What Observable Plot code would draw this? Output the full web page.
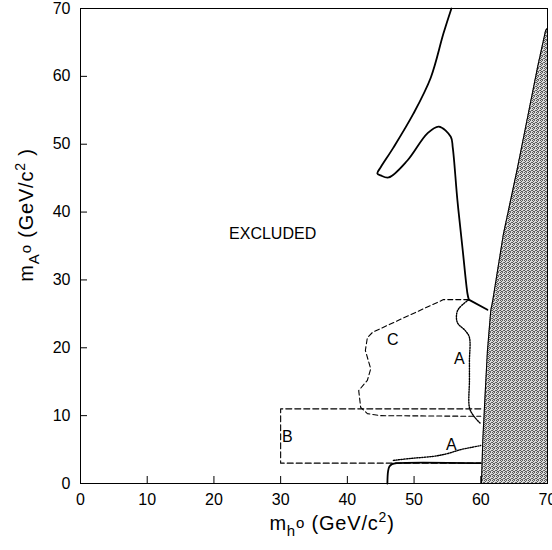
<!DOCTYPE html>
<html>
<head>
<meta charset="utf-8">
<script src="https://cdn.jsdelivr.net/npm/d3@7"></script>
<script src="https://cdn.jsdelivr.net/npm/@observablehq/plot@0.6"></script>
<style>
  html, body { margin: 0; padding: 0; background: #fff; }
  #chart { width: 552px; height: 550px; }
</style>
</head>
<body>
<div id="chart"></div>
<script>
// ---- tick values ----
const xTicks = [0, 10, 20, 30, 40, 50, 60, 70];
const yTicks = [0, 10, 20, 30, 40, 50, 60, 70];

// ---- kinematically inaccessible (shaded) region: left boundary ----
const shadeX = [60.1, 60.3, 60.6, 61.0, 61.5, 61.8, 63.4, 65.5, 67.0, 68.5, 69.7, 69.9];
const shadeY = [0, 6.3, 12.2, 19.6, 25.5, 27.0, 36.8, 46.5, 53.9, 61.3, 66.7, 67.0];

// ---- solid exclusion contour (upper) ----
const upperX = [55.6, 54.4, 52.5, 49.9, 46.9, 45.0, 44.5, 45.0, 46.2, 49.0, 52.0, 53.7, 55.5, 55.8, 56.5, 57.3, 58.0, 58.2];
const upperY = [70.0, 66.3, 59.8, 54.5, 49.5, 46.6, 45.7, 45.4, 45.1, 47.6, 51.6, 52.6, 51.1, 49.5, 41.7, 34.3, 28.0, 27.1];
// short branch from the junction to the shaded region
const branchX = [58.2, 61.0];
const branchY = [27.1, 25.6];

// ---- solid exclusion contour (bottom) ----
const lowerX = [46.0, 46.1, 46.3, 46.7, 47.4, 60.0];
const lowerY = [0, 1.8, 2.5, 2.85, 3.0, 3.0];

// ---- dashed contour C ----
const cX = [58.2, 54.4, 43.8, 43.0, 42.7, 43.5, 43.0, 41.7, 42.0, 43.0, 45.0, 60.0];
const cY = [27.1, 27.1, 22.3, 21.5, 19.6, 16.9, 15.2, 13.7, 11.2, 10.3, 10.0, 9.9];

// ---- dashed box B ----
const bX = [60, 30, 30, 60];
const bY = [11.0, 11.0, 3.0, 3.0];

// ---- dotted contour A (upper) ----
const aUX = [58.2, 56.8, 56.4, 56.5, 57.7, 58.3, 58.3, 58.3, 58.3, 58.9, 60.0];
const aUY = [27.1, 25.9, 25.1, 23.7, 22.5, 21.5, 18.1, 15.2, 11.2, 10.0, 8.8];

// ---- dotted contour A (lower) ----
const aLX = [46.9, 49.5, 52.9, 55.0, 57.0, 58.5, 60.0];
const aLY = [3.4, 3.7, 4.0, 4.4, 5.0, 5.3, 5.6];

// ---- region labels ----
const labelText = ["EXCLUDED", "C", "A", "A", "B"];
const labelX = [28.8, 46.8, 56.8, 55.6, 31.0];
const labelY = [36.8, 21.1, 18.4, 5.7, 6.8];

const zip = (xs, ys) => xs.map((x, i) => ({x, y: ys[i]}));
const shade = zip(shadeX, shadeY);
const labels = labelText.map((t, i) => ({t, x: labelX[i], y: labelY[i]}));

const W = 552, H = 550;
const mL = 80, mR = 5, mT = 8, mB = 67;
const innerW = W - mL - mR, innerH = H - mT - mB;
const font = "'Liberation Sans', Arial, sans-serif";

const plot = Plot.plot({
  width: W,
  height: H,
  marginLeft: mL,
  marginRight: mR,
  marginTop: mT,
  marginBottom: mB,
  style: {fontFamily: font, fontSize: "16px", color: "#000", background: "#fff", overflow: "visible"},
  x: {domain: [0, 70]},
  y: {domain: [0, 70]},
  marks: [
    Plot.areaX(shade, {y: "y", x1: "x", x2: 70, fill: "url(#stipple)"}),
    Plot.line(shade, {x: "x", y: "y", stroke: "#000", strokeWidth: 1.1}),
    Plot.line(zip(cX, cY), {x: "x", y: "y", stroke: "#000", strokeWidth: 1.1, strokeDasharray: "5,3"}),
    Plot.line(zip(bX, bY), {x: "x", y: "y", stroke: "#000", strokeWidth: 1.1, strokeDasharray: "6,3"}),
    Plot.line(zip(aUX, aUY), {x: "x", y: "y", stroke: "#000", strokeWidth: 1.4, strokeDasharray: "1.3,1.3", curve: "catmull-rom"}),
    Plot.line(zip(aLX, aLY), {x: "x", y: "y", stroke: "#000", strokeWidth: 1.4, strokeDasharray: "1.3,1.3", curve: "catmull-rom"}),
    Plot.line(zip(upperX, upperY), {x: "x", y: "y", stroke: "#000", strokeWidth: 1.8, strokeLinejoin: "round", curve: "catmull-rom"}),
    Plot.line(zip(branchX, branchY), {x: "x", y: "y", stroke: "#000", strokeWidth: 1.8}),
    Plot.line(zip(lowerX, lowerY), {x: "x", y: "y", stroke: "#000", strokeWidth: 1.8, curve: "catmull-rom"}),
    Plot.text(labels, {x: "x", y: "y", text: "t", fontSize: 16, fill: "#000"}),
    Plot.frame({stroke: "#000", strokeWidth: 1}),
    Plot.tickX(xTicks, {x: d => d, stroke: "#000", insetTop: innerH - 7}),
    Plot.tickY(yTicks, {y: d => d, stroke: "#000", insetRight: innerW - 7}),
    Plot.axisX(xTicks, {tickSize: 0, tickPadding: 10, label: null, fontSize: 16}),
    Plot.axisY(yTicks, {tickSize: 0, tickPadding: 10, label: null, fontSize: 16})
  ]
});

document.getElementById("chart").appendChild(plot);

// stipple (dithered grey) pattern for the shaded region
const svg = d3.select(plot);
const defs = svg.insert("defs", ":first-child");
const pat = defs.append("pattern").attr("id", "stipple").attr("patternUnits", "userSpaceOnUse")
  .attr("width", 4).attr("height", 4);
pat.append("rect").attr("width", 4).attr("height", 4).attr("fill", "#dadada");
[[0, 0], [2, 0], [1, 1], [3, 2], [0, 2], [2, 3], [1, 3]].forEach(([px, py], i) =>
  pat.append("rect").attr("x", px).attr("y", py).attr("width", 1).attr("height", 1)
    .attr("fill", i % 2 ? "#666" : "#555"));

// axis titles with sub/superscripts
const xt = svg.append("text")
  .attr("x", 332).attr("y", 530)
  .attr("text-anchor", "middle").attr("font-family", font).attr("font-size", 20)
  .attr("letter-spacing", 0.8).attr("fill", "#000");
xt.append("tspan").text("m");
xt.append("tspan").attr("font-size", 15).attr("dy", 6).text("h");
xt.append("tspan").attr("font-size", 15).attr("dy", -8).text("o");
xt.append("tspan").attr("dy", 2).text(" (GeV/c");
xt.append("tspan").attr("font-size", 14).attr("dy", -8).text("2");
xt.append("tspan").attr("dy", 8).text(")");

const yt = svg.append("text")
  .attr("transform", `translate(33, 215) rotate(-90)`)
  .attr("text-anchor", "middle").attr("font-family", font).attr("font-size", 20)
  .attr("letter-spacing", 0.8).attr("fill", "#000");
yt.append("tspan").text("m");
yt.append("tspan").attr("font-size", 15).attr("dy", 6).text("A");
yt.append("tspan").attr("font-size", 15).attr("dy", -8).text("o");
yt.append("tspan").attr("dy", 2).text(" (GeV/c");
yt.append("tspan").attr("font-size", 14).attr("dy", -8).text("2");
yt.append("tspan").attr("dy", 8).text(" )");
</script>
</body>
</html>
